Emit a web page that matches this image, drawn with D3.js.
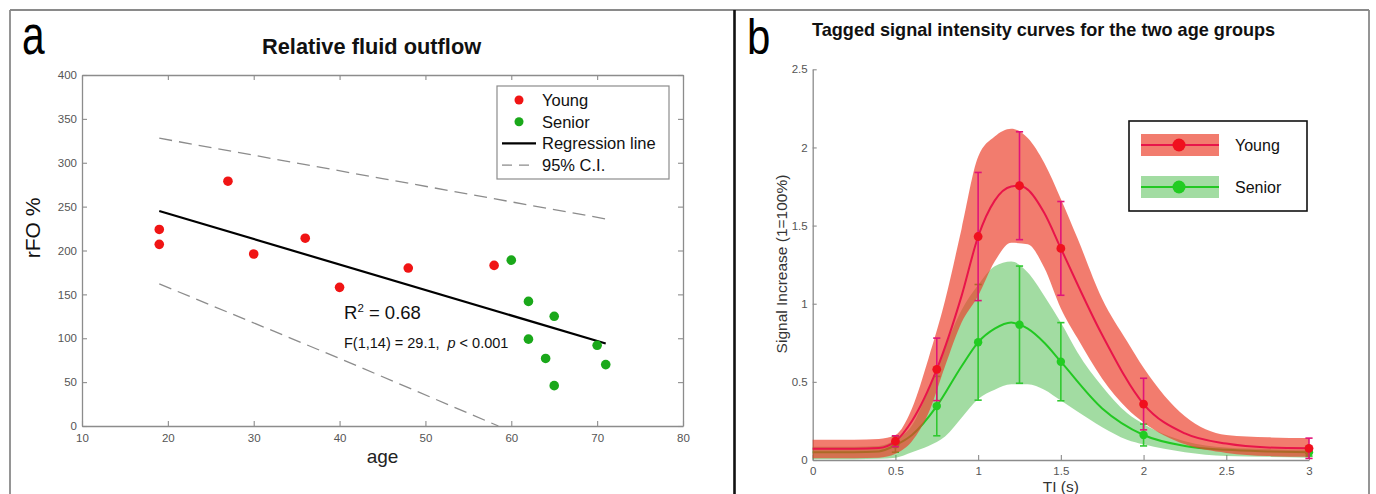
<!DOCTYPE html>
<html><head><meta charset="utf-8">
<script src="https://cdn.jsdelivr.net/npm/d3@7/dist/d3.min.js"></script>
<style>
html,body{margin:0;padding:0;background:#fff;}
svg{display:block;font-family:"Liberation Sans",Arial,Helvetica,sans-serif;}
</style></head>
<body>
<svg id="chart" width="1376" height="494"></svg>
<script>
// ---------- Panel a data ----------
const youngAge = [19, 19, 27, 30, 36, 40, 48, 58];
const youngRFO = [224, 207, 279, 196, 214, 158, 180, 183];
const seniorAge = [60, 62, 62, 64, 65, 65, 70, 71];
const seniorRFO = [189, 142, 99, 77, 125, 46, 92, 70];
const regAge = [19, 71];
const regRFO = [245, 94];
const ciUpperAge = [19, 45, 71];
const ciUpperRFO = [328, 282, 236];
const ciLowerAge = [19, 40, 58.5];
const ciLowerRFO = [162, 77, 0];
const ageTicks = [10, 20, 30, 40, 50, 60, 70, 80];
const rfoTicks = [0, 50, 100, 150, 200, 250, 300, 350, 400];
const legendA = ["Young", "Senior", "Regression line", "95% C.I."];

// ---------- Panel b data ----------
const TI = [0.5, 0.75, 1, 1.25, 1.5, 2, 3];
const youngMean = [0.12, 0.58, 1.43, 1.755, 1.354, 0.358, 0.075];
const youngErr = [0.035, 0.2, 0.41, 0.345, 0.3, 0.165, 0.065];
const seniorMean = [0.10, 0.345, 0.753, 0.866, 0.629, 0.16, 0.05];
const seniorErr = [0.05, 0.19, 0.37, 0.375, 0.25, 0.07, 0.025];

const fitTI = [0, 0.25, 0.4, 0.5, 0.6, 0.75, 0.9, 1, 1.1, 1.2, 1.25, 1.3, 1.4, 1.5, 1.75, 2, 2.25, 2.5, 2.75, 3];
const youngFit = [0.072, 0.072, 0.077, 0.12, 0.25, 0.58, 1.05, 1.43, 1.66, 1.75, 1.755, 1.73, 1.58, 1.354, 0.80, 0.358, 0.17, 0.105, 0.08, 0.075];
const seniorFit = [0.05, 0.05, 0.055, 0.095, 0.16, 0.345, 0.6, 0.753, 0.84, 0.88, 0.866, 0.84, 0.75, 0.629, 0.33, 0.16, 0.09, 0.065, 0.055, 0.05];

const bandTI = [0, 0.25, 0.4, 0.5, 0.6, 0.7, 0.8, 0.9, 1.0, 1.1, 1.2, 1.3, 1.4, 1.5, 1.6, 1.75, 1.9, 2.0, 2.25, 2.5, 2.75, 3];
const youngUpper = [0.13, 0.13, 0.135, 0.16, 0.33, 0.65, 1.02, 1.48, 1.94, 2.07, 2.12, 2.06, 1.9, 1.67, 1.42, 1.03, 0.76, 0.59, 0.28, 0.16, 0.145, 0.14];
const youngLower = [0.012, 0.012, 0.015, 0.04, 0.12, 0.3, 0.6, 0.88, 1.05, 1.27, 1.39, 1.38, 1.23, 0.97, 0.78, 0.52, 0.33, 0.24, 0.1, 0.045, 0.025, 0.02];
const seniorUpper = [0.085, 0.085, 0.09, 0.13, 0.22, 0.45, 0.72, 0.96, 1.12, 1.24, 1.27, 1.2, 1.05, 0.88, 0.69, 0.47, 0.3, 0.23, 0.12, 0.08, 0.07, 0.065];
const seniorLower = [0.005, 0.005, 0.008, 0.015, 0.05, 0.09, 0.15, 0.27, 0.39, 0.45, 0.485, 0.485, 0.45, 0.38, 0.31, 0.21, 0.13, 0.1, 0.05, 0.025, 0.02, 0.015];

const tiTicks = [0, 0.5, 1, 1.5, 2, 2.5, 3];
const sigTicks = [0, 0.5, 1, 1.5, 2, 2.5];
const legendB = ["Young", "Senior"];

// ---------- styles ----------
const C = {
  frame: "#8a8a8a", axis: "#8c8c8c", tick: "#555",
  redDot: "#f01414", greenDot: "#1aa81a",
  redBand: "rgb(236,62,42)", greenBand: "rgb(70,185,70)",
  redLine: "#e8154a", greenLine: "#22c822",
  redErr: "#e0147a", greenErr: "#30c830", redMarker: "#f0101e", greenMarker: "#22cc22"
};

const svg = d3.select("#chart");

// frame
svg.append("line").attr("x1", 10).attr("x2", 1369).attr("y1", 10).attr("y2", 10).attr("stroke", C.frame).attr("stroke-width", 1.8);
svg.append("line").attr("x1", 10).attr("x2", 10).attr("y1", 10).attr("y2", 494).attr("stroke", C.frame).attr("stroke-width", 1.8);
svg.append("line").attr("x1", 1369).attr("x2", 1369).attr("y1", 10).attr("y2", 494).attr("stroke", C.frame).attr("stroke-width", 1.8);
svg.append("line").attr("x1", 734.5).attr("x2", 734.5).attr("y1", 10).attr("y2", 494).attr("stroke", "#111").attr("stroke-width", 2.6);

// ================= Panel a =================
const xA = d3.scaleLinear().domain([10, 80]).range([82, 683]);
const yA = d3.scaleLinear().domain([0, 400]).range([426, 75]);
const gA = svg.append("g");

function styleAxis(g) {
  g.select(".domain").attr("stroke", C.axis).attr("stroke-width", 1.3);
  g.selectAll(".tick line").attr("stroke", C.axis).attr("stroke-width", 1.1);
  g.selectAll(".tick text").attr("fill", C.tick).attr("font-size", 11.5).attr("font-family", "Liberation Sans, Arial, sans-serif");
}
gA.append("g").attr("transform", `translate(0,${yA(0)})`)
  .call(d3.axisBottom(xA).tickValues(ageTicks).tickSize(-5).tickSizeOuter(0).tickPadding(7.5).tickFormat(d3.format("d"))).call(styleAxis);
gA.append("g").attr("transform", `translate(0,${yA(400)})`)
  .call(d3.axisTop(xA).tickValues(ageTicks).tickSize(-5).tickSizeOuter(0).tickFormat("")).call(styleAxis);
gA.append("g").attr("transform", `translate(${xA(10)},0)`)
  .call(d3.axisLeft(yA).tickValues(rfoTicks).tickSize(-5).tickSizeOuter(0).tickPadding(5).tickFormat(d3.format("d"))).call(styleAxis);
gA.append("g").attr("transform", `translate(${xA(80)},0)`)
  .call(d3.axisRight(yA).tickValues(rfoTicks).tickSize(-5).tickSizeOuter(0).tickFormat("")).call(styleAxis);

const lineA = d3.line().x(d => xA(d[0])).y(d => yA(d[1]));
gA.append("path").datum(d3.zip(ciUpperAge, ciUpperRFO)).attr("d", lineA)
  .attr("fill", "none").attr("stroke", "#8c8c8c").attr("stroke-width", 1.3).attr("stroke-dasharray", "13,7");
gA.append("path").datum(d3.zip(ciLowerAge, ciLowerRFO)).attr("d", lineA)
  .attr("fill", "none").attr("stroke", "#8c8c8c").attr("stroke-width", 1.3).attr("stroke-dasharray", "13,7");
gA.append("path").datum(d3.zip(regAge, regRFO)).attr("d", lineA)
  .attr("fill", "none").attr("stroke", "#000").attr("stroke-width", 2.2);

gA.selectAll("circle.young").data(d3.zip(youngAge, youngRFO)).join("circle").attr("class", "young")
  .attr("cx", d => xA(d[0])).attr("cy", d => yA(d[1])).attr("r", 4.8).attr("fill", C.redDot);
gA.selectAll("circle.senior").data(d3.zip(seniorAge, seniorRFO)).join("circle").attr("class", "senior")
  .attr("cx", d => xA(d[0])).attr("cy", d => yA(d[1])).attr("r", 4.8).attr("fill", C.greenDot);

// legend a
const lgA = gA.append("g");
lgA.append("rect").attr("x", 497).attr("y", 86).attr("width", 172).attr("height", 93)
  .attr("fill", "#fff").attr("stroke", "#8c8c8c").attr("stroke-width", 1.2);
legendA.forEach((t, i) => {
  const cy = 100 + i * 21.7;
  if (i === 0) lgA.append("circle").attr("cx", 519).attr("cy", cy).attr("r", 4.5).attr("fill", C.redDot);
  if (i === 1) lgA.append("circle").attr("cx", 519).attr("cy", cy).attr("r", 4.5).attr("fill", C.greenDot);
  if (i === 2) lgA.append("line").attr("x1", 502).attr("x2", 536).attr("y1", cy).attr("y2", cy).attr("stroke", "#000").attr("stroke-width", 2.2);
  if (i === 3) lgA.append("line").attr("x1", 502).attr("x2", 536).attr("y1", cy).attr("y2", cy).attr("stroke", "#8c8c8c").attr("stroke-width", 1.3).attr("stroke-dasharray", "10,7");
  lgA.append("text").attr("x", 542).attr("y", cy + 6).attr("font-size", 16.5).attr("fill", "#111").text(t);
});

// texts a
gA.append("text").attr("x", 262).attr("y", 54).attr("font-size", 21.8).attr("font-weight", "bold").attr("fill", "#111").text("Relative fluid outflow");
gA.append("text").attr("transform", "translate(22,54) scale(0.74,1)").attr("font-size", 55).attr("fill", "#000").text("a");
gA.append("text").attr("transform", "translate(40,228) rotate(-90)").attr("text-anchor", "middle").attr("font-size", 21).attr("fill", "#111").text("rFO %");
gA.append("text").attr("x", xA(45)).attr("y", 463).attr("text-anchor", "middle").attr("font-size", 19).attr("fill", "#222").text("age");
const r2 = gA.append("text").attr("x", 344).attr("y", 319).attr("font-size", 18.5).attr("fill", "#111");
r2.append("tspan").text("R");
r2.append("tspan").attr("font-size", 11.5).attr("dy", -7).text("2");
r2.append("tspan").attr("dy", 7).text(" = 0.68");
const ft = gA.append("text").attr("x", 344).attr("y", 348).attr("font-size", 14.5).attr("fill", "#111").attr("xml:space", "preserve");
ft.append("tspan").text("F(1,14) = 29.1,");
ft.append("tspan").attr("dx", 8).attr("font-style", "italic").text("p");
ft.append("tspan").text(" < 0.001");

// ================= Panel b =================
const xB = d3.scaleLinear().domain([0, 3]).range([812.7, 1309]);
const yB = d3.scaleLinear().domain([0, 2.5]).range([460, 69.3]);
const gB = svg.append("g");

gB.append("g").attr("transform", `translate(0,${yB(0)})`)
  .call(d3.axisBottom(xB).tickValues(tiTicks).tickSize(-5).tickSizeOuter(0).tickPadding(7).tickFormat(d => String(d))).call(styleAxis);
gB.append("g").attr("transform", `translate(${xB(0)},0)`)
  .call(d3.axisLeft(yB).tickValues(sigTicks).tickSize(-4).tickSizeOuter(0).tickPadding(5).tickFormat(d => String(d))).call(styleAxis);

const area = (up, lo) => d3.area().x((d, i) => xB(bandTI[i])).y0((d, i) => yB(lo[i])).y1((d, i) => yB(up[i])).curve(d3.curveMonotoneX);
const fitLine = d3.line().x(d => xB(d[0])).y(d => yB(d[1])).curve(d3.curveMonotoneX);

function errorBars(g, means, errs, color) {
  const cap = 3.6;
  TI.forEach((t, i) => {
    const x = xB(t), y1 = yB(means[i] + errs[i]), y0 = yB(Math.max(0, means[i] - errs[i]));
    g.append("line").attr("x1", x).attr("x2", x).attr("y1", y1).attr("y2", y0).attr("stroke", color).attr("stroke-width", 1.6);
    g.append("line").attr("x1", x - cap).attr("x2", x + cap).attr("y1", y1).attr("y2", y1).attr("stroke", color).attr("stroke-width", 1.6);
    g.append("line").attr("x1", x - cap).attr("x2", x + cap).attr("y1", y0).attr("y2", y0).attr("stroke", color).attr("stroke-width", 1.6);
  });
}

// senior (under)
gB.append("path").datum(bandTI).attr("d", area(seniorUpper, seniorLower)).attr("fill", C.greenBand).attr("fill-opacity", 0.5);
gB.append("path").datum(d3.zip(fitTI, seniorFit)).attr("d", fitLine).attr("fill", "none").attr("stroke", C.greenLine).attr("stroke-width", 2);
const gSe = gB.append("g");
errorBars(gSe, seniorMean, seniorErr, C.greenErr);
gSe.selectAll("circle").data(d3.zip(TI, seniorMean)).join("circle")
  .attr("cx", d => xB(d[0])).attr("cy", d => yB(d[1])).attr("r", 4.2).attr("fill", C.greenMarker);

// young (over)
gB.append("path").datum(bandTI).attr("d", area(youngUpper, youngLower)).attr("fill", C.redBand).attr("fill-opacity", 0.68);
gB.append("path").datum(d3.zip(fitTI, youngFit)).attr("d", fitLine).attr("fill", "none").attr("stroke", C.redLine).attr("stroke-width", 2);
const gYo = gB.append("g");
errorBars(gYo, youngMean, youngErr, C.redErr);
gYo.selectAll("circle").data(d3.zip(TI, youngMean)).join("circle")
  .attr("cx", d => xB(d[0])).attr("cy", d => yB(d[1])).attr("r", 4.4).attr("fill", C.redMarker);

// legend b
const lgB = gB.append("g");
lgB.append("rect").attr("x", 1129).attr("y", 121).attr("width", 178).attr("height", 90)
  .attr("fill", "#fff").attr("stroke", "#111").attr("stroke-width", 1.6);
legendB.forEach((t, i) => {
  const cy = 145 + i * 42;
  const band = i === 0 ? C.redBand : C.greenBand, op = i === 0 ? 0.68 : 0.5;
  const ln = i === 0 ? C.redLine : C.greenLine, mk = i === 0 ? C.redMarker : C.greenMarker;
  lgB.append("rect").attr("x", 1141).attr("y", cy - 11).attr("width", 78).attr("height", 22).attr("fill", band).attr("fill-opacity", op);
  lgB.append("line").attr("x1", 1141).attr("x2", 1219).attr("y1", cy).attr("y2", cy).attr("stroke", ln).attr("stroke-width", 2);
  lgB.append("circle").attr("cx", 1179).attr("cy", cy).attr("r", 6.5).attr("fill", mk);
  lgB.append("text").attr("x", 1235).attr("y", cy + 5.8).attr("font-size", 16).attr("fill", "#111").text(t);
});

// texts b
gB.append("text").attr("transform", "translate(747,54) scale(0.84,1)").attr("font-size", 50).attr("fill", "#000").text("b");
gB.append("text").attr("x", 812).attr("y", 36).attr("font-size", 18.1).attr("font-weight", "bold").attr("fill", "#111")
  .text("Tagged signal intensity curves for the two age groups");
gB.append("text").attr("transform", "translate(787,264) rotate(-90)").attr("text-anchor", "middle").attr("font-size", 15.5).attr("fill", "#333")
  .text("Signal Increase (1=100%)");
gB.append("text").attr("x", (xB(0) + xB(3)) / 2).attr("y", 492).attr("text-anchor", "middle").attr("font-size", 15.5).attr("fill", "#333").text("TI (s)");
</script>
</body></html>
